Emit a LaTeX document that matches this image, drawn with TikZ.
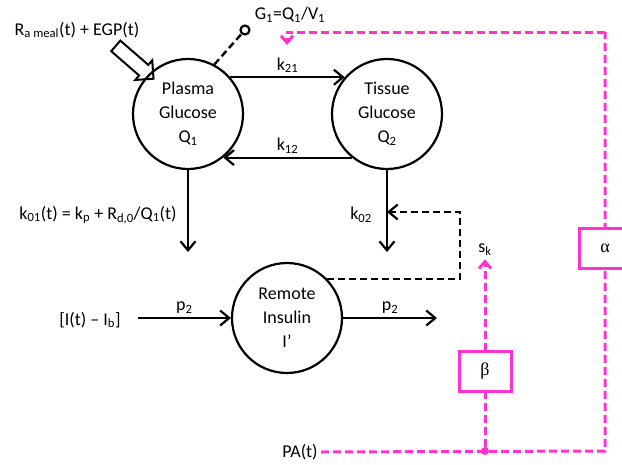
\documentclass[tikz,border=0pt]{standalone}
\usepackage{fontspec}
\setmainfont{Carlito}
\newfontfamily\grk{Liberation Serif}
\usetikzlibrary{arrows.meta,positioning,shapes.arrows}
\definecolor{pinkc}{RGB}{255,51,204}
\newcommand{\sbs}[1]{\textsubscript{#1}}

\begin{document}
\begin{tikzpicture}[
  x=1pt, y=-1pt,
  every node/.style={font=\fontsize{18}{24}\selectfont},
  comp/.style={circle, draw, line width=2.2pt, minimum size=110pt,
               inner sep=0pt, align=center},
  flow/.style={-{Straight Barb[length=9pt,width=15pt]}, line width=2.2pt},
  fbdash/.style={line width=2.4pt, dash pattern=on 7pt off 4pt},
  pinkdash/.style={draw=pinkc, line width=3pt, dash pattern=on 8pt off 4pt},
  pinkflow/.style={pinkdash, -{Straight Barb[length=7pt,width=12pt]}},
  gainbox/.style={draw=pinkc, line width=3pt, fill=white,
                  minimum width=52pt, minimum height=40pt}]

\useasboundingbox (0,0) rectangle (622,464);
\clip (0,0) rectangle (622,464);

\node[comp] (plasma) at (188,114) {Plasma\\Glucose\\Q\sbs{1}};
\node[comp] (tissue) at (387,114) {Tissue\\Glucose\\Q\sbs{2}};
\node[comp] (remote) at (287,318) {Remote\\Insulin\\I'};

\node (ra) at (77,30) {R\sbs{a meal}(t) + EGP(t)};
\node[single arrow, draw, line width=2pt, minimum height=50pt,
      single arrow head extend=6pt, inner sep=6pt,
      rotate=-41] (meal) at (132,60) {};

\node[circle, draw, line width=2.2pt, minimum size=9pt, inner sep=0pt] (sens) at (245,30) {};
\node (gone) at (290,15) {G\sbs{1}=Q\sbs{1}/V\sbs{1}};
\draw[fbdash] (plasma.62) -- (sens);

\draw[flow] (plasma.41) -- node[above] {k\sbs{21}} (tissue.139);
\draw[flow] (tissue.-129) -- node[above] {k\sbs{12}} (plasma.-51);

\coordinate (pout) at (188,252);
\coordinate (tout) at (387,252);
\draw[flow] (plasma.south) -- (pout);
\draw[flow] (tissue.south) -- (tout);
\node (kzo) at (98,215) {k\sbs{01}(t) = k\sbs{p} + R\sbs{d,0}/Q\sbs{1}(t)};
\node (kzt) at (361,215) {k\sbs{02}};

\coordinate (fb) at (460,212);
\draw[fbdash, flow] (remote.44) -- (remote.44 -| fb) -- (fb) -- (tissue.south |- fb);

\node[inner xsep=17pt] (ib) at (90,320) {[I(t) -- I\sbs{b}]};
\coordinate (iout) at (437,318);
\draw[flow] (ib.east |- remote.west) -- node[above] {p\sbs{2}} (remote.west);
\draw[flow] (remote.east) -- node[above] {p\sbs{2}} (iout);

\node (sk) at (485,250) {s\sbs{k}};
\node (pa) at (300,452) {PA(t)};
\node[circle, fill=pinkc, inner sep=0pt, minimum size=8pt] (pd) at (485,451) {};
\coordinate (cbr) at (605,451);
\coordinate (ctr) at (605,32);
\coordinate (ctl) at (287,32);
\coordinate (gtip) at (287,45);

\draw[pinkdash] (pa.east) -- (cbr) -- (ctr);
\draw[pinkflow] (ctr) -- (ctl) -- (gtip);
\draw[pinkflow] (pd) -- (sk);
\node[gainbox] (beta) at (485,371) {\grk β};
\node[gainbox] (alpha) at (605,248) {\grk α};
\end{tikzpicture}
\end{document}
